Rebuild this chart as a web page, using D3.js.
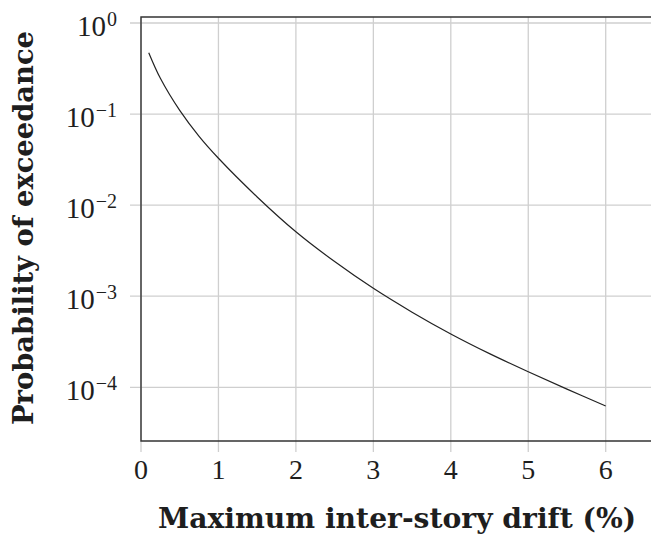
<!DOCTYPE html>
<html>
<head>
<meta charset="utf-8">
<script src="https://cdn.jsdelivr.net/npm/d3@7"></script>
<style>
  html, body { margin: 0; padding: 0; background: #fff; }
  svg { display: block; }
  text { font-family: "Liberation Serif", "DejaVu Serif", serif; fill: #1e1e1e; }
  .title { font-family: "DejaVu Serif", "Liberation Serif", serif; font-weight: bold; }
</style>
</head>
<body>
<svg id="chart" width="651" height="538"></svg>
<script>
// Exceedance curve: drift (%) vs probability of exceedance
const drift = [0.1, 0.25, 0.5, 0.75, 1.0, 1.5, 2.0, 2.5, 3.0, 3.5, 4.0, 4.5, 5.0, 5.5, 6.0];
const exceedance = [0.472, 0.247, 0.1096, 0.0569, 0.0327, 0.0123, 0.0051, 0.0024, 0.00122, 0.000668, 0.000385, 0.000234, 0.000148, 0.0000955, 0.0000624];

const xTicks = [0, 1, 2, 3, 4, 5, 6];
const yTickExponents = [0, -1, -2, -3, -4];

const xLabel = "Maximum inter-story drift (%)";
const yLabel = "Probability of exceedance";

const svg = d3.select("#chart");
const plotLeft = 141, plotTop = 17, plotBottom = 441, plotRight = 651;
const unit = 77.45;          // pixels per 1 % drift
const decade = 91.07;        // pixels per decade

const x = d3.scaleLinear().domain([0, 1]).range([plotLeft, plotLeft + unit]);
const y = d3.scaleLog().domain([1, 1e-4]).range([23, 23 + 4 * decade]);

// grid lines, extended past the axes as tick marks
const grid = svg.append("g").attr("stroke", "#cfcfcf").attr("stroke-width", 1.3);
xTicks.forEach(t => {
  grid.append("line").attr("x1", x(t)).attr("x2", x(t)).attr("y1", plotTop).attr("y2", plotBottom + 11);
});
yTickExponents.forEach(e => {
  grid.append("line").attr("x1", plotLeft - 11).attr("x2", plotRight)
    .attr("y1", y(Math.pow(10, e))).attr("y2", y(Math.pow(10, e)));
});

// axis frame (left, top, bottom)
svg.append("path")
  .attr("d", `M${plotRight},${plotTop}H${plotLeft}V${plotBottom}H${plotRight}`)
  .attr("stroke", "#333").attr("stroke-width", 1.4).attr("fill", "none");

// x tick labels
svg.append("g").selectAll("text").data(xTicks).join("text")
  .attr("x", d => x(d)).attr("y", 479)
  .attr("text-anchor", "middle")
  .attr("font-size", 28)
  .text(d => d);

// y tick labels: 10 with superscript exponent
const yl = svg.append("g").selectAll("text").data(yTickExponents).join("text")
  .attr("x", 117).attr("y", d => y(Math.pow(10, d)) + 13)
  .attr("text-anchor", "end")
  .attr("font-size", 29);
yl.append("tspan").text("10");
yl.append("tspan").attr("dx", 1).attr("dy", -10).attr("font-size", 20)
  .text(d => d === 0 ? "0" : "\u2212" + Math.abs(d));

// curve
const line = d3.line().x(d => x(d[0])).y(d => y(d[1])).curve(d3.curveCatmullRom.alpha(0.5));
svg.append("path")
  .datum(drift.map((d, i) => [d, exceedance[i]]))
  .attr("d", line)
  .attr("fill", "none").attr("stroke", "#222").attr("stroke-width", 1.2);

// axis titles
svg.append("text").attr("class", "title")
  .attr("x", 158).attr("y", 528)
  .attr("font-size", 27)
  .attr("textLength", 478).attr("lengthAdjust", "spacingAndGlyphs")
  .text(xLabel);

svg.append("text").attr("class", "title")
  .attr("transform", "translate(33,425) rotate(-90)")
  .attr("font-size", 27)
  .attr("textLength", 394).attr("lengthAdjust", "spacingAndGlyphs")
  .text(yLabel);
</script>
</body>
</html>
